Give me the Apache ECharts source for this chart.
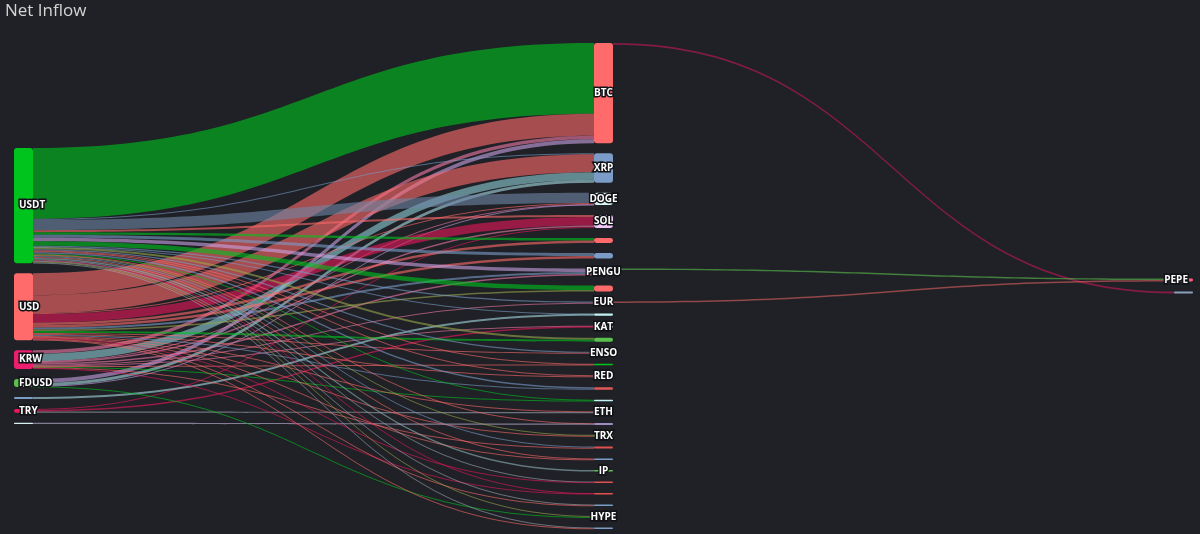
<!DOCTYPE html>
<html><head><meta charset="utf-8">
<script src="https://cdn.jsdelivr.net/npm/echarts@6/dist/echarts.min.js"></script>
<style>html,body{margin:0;padding:0;background:#1f2126;}#c{width:1200px;height:534px;}</style>
</head><body><div id="c"></div>
<script>
// ---- data ----
const sourceNodes = ['USDT','USD','KRW','FDUSD','Other A','TRY','Other B'];
const midNodes = ['BTC','XRP','DOGE','SOL','Other 1','Other 2','PENGU','Other 3','EUR','Other 4','KAT','Other 5','ENSO','Other 6','RED','Other 7','Other 8','ETH','Other 9','TRX','Other 10','Other 11','IP','Other 12','Other 13','Other 14','HYPE','Other 15'];
const endNodes = ['PEPE','Other R'];
const labeledNodes = ['USDT','USD','KRW','FDUSD','TRY','BTC','XRP','DOGE','SOL','PENGU','EUR','KAT','ENSO','RED','ETH','TRX','IP','HYPE','PEPE'];
// net inflow flows [source, target, value]
const flows = [
 ['USDT','BTC',71],['USD','BTC',22],['KRW','BTC',3.5],['FDUSD','BTC',4],
 ['USDT','XRP',1],['USD','XRP',18],['KRW','XRP',7.5],['FDUSD','XRP',3],
 ['USDT','DOGE',10.5],['USD','DOGE',1],['KRW','DOGE',0.5],['FDUSD','DOGE',0.5],
 ['USDT','SOL',2],['USD','SOL',8.5],['KRW','SOL',1.5],['TRY','SOL',1],
 ['USDT','Other 1',2.5],['USD','Other 1',2.5],
 ['USDT','Other 2',3],['USD','Other 2',2.5],
 ['USDT','PENGU',3.5],['USD','PENGU',2],['KRW','PENGU',1.5],
 ['USDT','Other 3',4.5],['USD','Other 3',1.5],
 ['USDT','EUR',1.2],['KRW','EUR',0.8],
 ['USDT','Other 4',0.3],['Other A','Other 4',1.9],
 ['KRW','KAT',0.5],['TRY','KAT',1.5],
 ['USDT','Other 5',2],['USD','Other 5',2],
 ['USDT','ENSO',1.2],['USD','ENSO',0.8],
 ['USDT','Other 6',0.8],['KRW','Other 6',0.7],
 ['USDT','RED',1],['USD','RED',1],
 ['USDT','Other 7',1.5],['USD','Other 7',1],
 ['USDT','Other 8',0.9],['KRW','Other 8',0.6],
 ['USD','ETH',0.8],['TRY','ETH',1.4],
 ['USDT','Other 9',0.3],['Other B','Other 9',1.2],
 ['USDT','TRX',1],['USD','TRX',0.7],
 ['USDT','Other 10',1.2],['KRW','Other 10',0.8],
 ['USDT','Other 11',0.8],['USD','Other 11',0.7],
 ['USDT','IP',1.5],
 ['USDT','Other 12',0.8],['USD','Other 12',0.7],
 ['USDT','Other 13',0.6],['KRW','Other 13',0.9],
 ['USDT','Other 14',0.8],['USD','Other 14',0.7],
 ['USDT','HYPE',0.9],['FDUSD','HYPE',0.6],
 ['USDT','Other 15',0.8],['USD','Other 15',0.7],
 ['BTC','Other R',1.8],['PENGU','PEPE',1.5],['EUR','PEPE',1.5]
];

// ---- styles ----
const C = {
  green:'#00c41e', salmon:'#ff6b6b', crimson:'#e8185a', pink:'#f27aa8', lilac:'#c9a3e6',
  steel:'#7c9cc8', teal:'#8fcfd6', lteal:'#a8dce4', olive:'#9aa84c', gray:'#a0a8b4',
  light:'#c8b8e0', mgreen:'#5cc04c', cyan:'#c4f2f2', lav:'#f0c8f8'
};
const nodeColors = {
  'USDT':C.green,'USD':C.salmon,'KRW':'#ee1e6e','FDUSD':C.mgreen,'Other A':C.steel,'TRY':C.crimson,'Other B':'#d8f0f0',
  'BTC':C.salmon,'XRP':C.steel,'DOGE':'#d8f4f4','SOL':C.lav,'Other 1':C.salmon,'Other 2':C.steel,'PENGU':C.lav,
  'Other 3':C.salmon,'EUR':C.steel,'Other 4':C.cyan,'KAT':C.lav,'Other 5':C.mgreen,'ENSO':C.steel,'Other 6':C.green,
  'RED':C.salmon,'Other 7':'#e05858','Other 8':C.cyan,'ETH':C.steel,'Other 9':'#c8b0f0','TRX':C.mgreen,
  'Other 10':'#e05050','Other 11':C.steel,'IP':C.mgreen,'Other 12':'#e05050','Other 13':'#e05050','Other 14':C.steel,
  'HYPE':C.steel,'Other 15':C.steel,'PEPE':'#ff5c7c','Other R':'#8aa0b8'
};
const flowColors = [
 C.green,C.salmon,C.pink,C.lilac,
 C.steel,C.salmon,C.teal,C.lteal,
 '#6f87a6',C.salmon,C.pink,C.lilac,
 C.salmon,C.crimson,C.pink,C.crimson,
 C.green,C.salmon,
 C.steel,C.salmon,
 C.lilac,C.steel,C.pink,
 C.green,C.olive,
 C.steel,C.pink,
 C.steel,C.lteal,
 C.pink,C.crimson,
 C.olive,C.green,
 C.steel,C.salmon,
 C.salmon,C.salmon,
 C.salmon,C.salmon,
 C.steel,C.steel,
 C.green,C.green,
 C.salmon,C.gray,
 C.salmon,C.light,
 C.olive,C.salmon,
 C.steel,C.salmon,
 C.salmon,C.salmon,
 '#8fb4b8',
 C.gray,C.crimson,
 C.crimson,C.crimson,
 C.gray,C.salmon,
 C.olive,C.green,
 C.gray,C.salmon,
 '#c8185a',C.mgreen,'#e06060'
];

// ---- layout (vertical centring of the outer columns, derived from the values) ----
const TOP = 43, BOTTOM = 5, GAP = 10, H = 534 - TOP - BOTTOM;
const inSum = {}, outSum = {};
flows.forEach(([s,t,v]) => { outSum[s] = (outSum[s]||0)+v; inSum[t] = (inSum[t]||0)+v; });
const val = n => Math.max(inSum[n]||0, outSum[n]||0);
const columns = [sourceNodes, midNodes, endNodes];
const ky = Math.min(...columns.map(c => (H - (c.length-1)*GAP) / c.reduce((a,n)=>a+val(n),0)));
const localY = {};
[0,2].forEach(ci => {
  const col = columns[ci];
  const total = col.reduce((a,n)=>a+val(n)*ky,0) + (col.length-1)*GAP;
  let y = (H - total)/2;
  col.forEach(n => { localY[n] = y / H; y += val(n)*ky + GAP; });
});

const nodes = [];
columns.forEach((col, ci) => col.forEach(n => {
  const item = { name: n, itemStyle: { color: nodeColors[n] } };
  if (localY[n] != null) item.localY = localY[n];
  if (!labeledNodes.includes(n)) item.label = { show: false };
  else if (ci === 0) item.label = { position: 'insideLeft' };
  else if (ci === 2) item.label = { position: 'insideRight' };
  nodes.push(item);
}));
const links = flows.map(([s,t,v], i) => ({ source: s, target: t, value: v, lineStyle: { color: flowColors[i] } }));

const chart = echarts.init(document.getElementById('c'));
chart.setOption({
  backgroundColor: '#1f2126',
  animation: false,
  title: { text: 'Net Inflow', left: 0, top: -2, textStyle: { color: '#d4d4d4', fontSize: 17, fontWeight: 'normal', fontFamily: 'Open Sans' } },
  series: [{
    type: 'sankey',
    left: 14, right: 7, top: TOP, bottom: BOTTOM,
    nodeWidth: 19, nodeGap: GAP, nodeAlign: 'left', layoutIterations: 0,
    draggable: false,
    itemStyle: { borderWidth: 0, borderRadius: 3 },
    lineStyle: { opacity: 0.6, curveness: 0.5 },
    label: { position: 'inside', color: '#ffffff', fontSize: 10, fontWeight: 'bold', fontFamily: 'Open Sans', textBorderColor: '#111216', textBorderWidth: 3 },
    data: nodes,
    links: links
  }]
});
</script></body></html>
